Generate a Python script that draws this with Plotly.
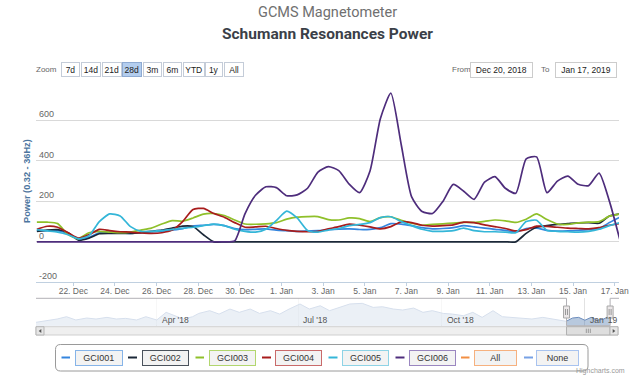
import plotly.graph_objects as go
import pandas as pd

# ---------------- data ----------------
times = pd.date_range("2018-12-20 06:00", periods=57, freq="12h")

gci001 = [55, 55, 55, 40, 12, 22, 45, 48, 45, 42, 45, 50, 52, 58, 65, 78, 82, 86, 80, 66,
          60, 62, 64, 58, 55, 52, 54, 55, 60, 63, 64, 61, 62, 70, 90, 88, 80, 70, 64, 66,
          70, 80, 74, 68, 62, 57, 48, 65, 68, 57, 53, 54, 57, 60, 66, 95, 122]
gci002 = [52, 58, 60, 45, 8, 18, 40, 42, 42, 42, 46, 52, 58, 68, 78, 76, 35, 0,
          0, 0, 0, 0, 0, 0, 0, 0, 0, 0, 0, 0, 0, 0, 0, 0, 0, 0, 0, 0, 0, 0, 0, 0, 0, 0, 0, 0, 0,
          42, 72, 80, 86, 90, 94, 95, 92, 128, 138]
gci003 = [97, 97, 90, 36, 16, 45, 52, 48, 45, 48, 58, 68, 88, 105, 102, 118, 137, 140, 130, 108,
          88, 87, 89, 95, 112, 122, 125, 125, 110, 108, 118, 115, 100, 120, 124, 106, 92, 82, 86, 89,
          93, 96, 96, 101, 108, 104, 96, 112, 138, 110, 88, 86, 94, 97, 100, 127, 138]
gci004 = [62, 77, 72, 45, 18, 35, 62, 55, 50, 48, 44, 42, 45, 58, 100, 160, 165, 140, 122, 95,
          72, 74, 77, 66, 57, 52, 50, 52, 64, 75, 88, 82, 74, 64, 75, 99, 95, 82, 78, 80,
          84, 97, 95, 84, 75, 66, 54, 60, 78, 76, 72, 68, 66, 64, 70, 82, 90]
gci005 = [60, 54, 48, 35, 15, 30, 100, 138, 128, 75, 52, 52, 55, 62, 67, 72, 80, 88, 80, 62,
          52, 48, 62, 105, 152, 118, 56, 48, 58, 66, 80, 86, 95, 120, 124, 100, 80, 62, 52, 52,
          55, 68, 55, 50, 50, 48, 45, 100, 107, 56, 52, 50, 48, 52, 62, 80, 95]
gci006 = [0, 0, 0, 0, 0, 0, 0, 0, 0, 0, 0, 0, 0, 0, 0, 0, 0, 0, 0,
          5, 140, 230, 272, 268, 228, 232, 265, 345, 372, 352, 285, 243, 350, 610, 735, 480, 222, 150,
          140, 200, 284, 250, 210, 295, 322, 265, 240, 410, 420, 243, 300, 325, 285, 278, 340, 200, 10]

series_names = ["GCI001", "GCI002", "GCI003", "GCI004", "GCI005", "GCI006"]
series_values = [gci001, gci002, gci003, gci004, gci005, gci006]
series_colors = ["#3485de", "#1b2838", "#8fc02a", "#a81c1c", "#34b6d8", "#4e2d7c"]

legend_names = ["GCI001", "GCI002", "GCI003", "GCI004", "GCI005", "GCI006", "All", "None"]
legend_colors = ["#3485de", "#1b2838", "#8fc02a", "#a81c1c", "#34b6d8", "#4e2d7c", "#f28f43", "#77a1e5"]
legend_borders = ["#86b4e8", "#4a525c", "#b2d66e", "#c96a6a", "#8ed3e6", "#9a86c0", "#f6b17f", "#a8c3ef"]

nav_dates = ["2018-01-13", "2018-01-20", "2018-01-27", "2018-02-02", "2018-02-08", "2018-02-15",
             "2018-02-21", "2018-02-28", "2018-03-06", "2018-03-12", "2018-03-19", "2018-03-25",
             "2018-04-01", "2018-04-07", "2018-04-11", "2018-04-18", "2018-04-24", "2018-04-28",
             "2018-05-05", "2018-05-11", "2018-05-18", "2018-05-24", "2018-05-31", "2018-06-06",
             "2018-06-13", "2018-06-19", "2018-06-25", "2018-07-02", "2018-07-08", "2018-07-15",
             "2018-07-21", "2018-07-27", "2018-08-03", "2018-08-11", "2018-08-18", "2018-08-24",
             "2018-08-31", "2018-09-06", "2018-09-13", "2018-09-19", "2018-09-25", "2018-10-02",
             "2018-10-08", "2018-10-15", "2018-10-21", "2018-10-27", "2018-11-03", "2018-11-09",
             "2018-11-16", "2018-11-22", "2018-11-28", "2018-12-05", "2018-12-11", "2018-12-17",
             "2018-12-20", "2018-12-24", "2018-12-28", "2019-01-01", "2019-01-05", "2019-01-09",
             "2019-01-13", "2019-01-17"]
nav_vals = [30, 46, 61, 82, 52, 70, 61, 76, 61, 67, 52, 82, 52, 122, 100, 61, 82, 112, 137, 106,
            152, 122, 152, 112, 137, 106, 152, 198, 152, 182, 137, 167, 198, 204, 167, 173, 152, 143,
            161, 122, 137, 112, 106, 91, 122, 76, 137, 82, 76, 70, 61, 76, 61, 52, 40, 70, 76, 50,
            76, 50, 60, 91]
nav_tick_dates = ["2018-04-01", "2018-07-01", "2018-10-01", "2019-01-01"]
nav_tick_labels = ["Apr '18", "Jul '18", "Oct '18", "Jan '19"]

y_ticks = [-200, 0, 200, 400, 600, 800]
y_ticktext = ["-200", "0", "200", "400", "600", ""]

zoom_labels = ["7d", "14d", "21d", "28d", "3m", "6m", "YTD", "1y", "All"]
active_zoom = "28d"
from_text = "Dec 20, 2018"
to_text = "Jan 17, 2019"

view_start = "2018-12-20 05:00"
view_end = "2019-01-17 05:00"
nav_start = "2018-01-13 10:00"
nav_end = "2019-01-22 22:00"

# ---------------- layout geometry ----------------
W, H = 640, 378
ML, MR, MT, MB = 36, 21, 80, 42
PW = W - ML - MR
PH = H - MT - MB


def fx(p):
    return (p - ML) / PW


def fy(p):
    return (H - MB - p) / PH


SMALL = "Liberation Sans, Arial, sans-serif"

fig = go.Figure()
for name, vals, col in zip(series_names, series_values, series_colors):
    fig.add_trace(go.Scatter(x=times, y=vals, name=name, mode="lines",
                             line=dict(color=col, width=1.7, shape="spline", smoothing=0.6),
                             xaxis="x", yaxis="y", showlegend=False, hoverinfo="skip"))

fig.add_trace(go.Scatter(x=nav_dates, y=nav_vals, mode="lines", fill="tozeroy",
                         line=dict(color="#6d8dbd", width=1), fillcolor="rgba(69,114,167,0.38)",
                         xaxis="x2", yaxis="y2", showlegend=False, hoverinfo="skip"))

shapes = []
annotations = []

# navigator masks and outline
for a, b in [(nav_start, view_start), (view_end, nav_end)]:
    shapes.append(dict(type="rect", xref="x2", yref="y2 domain", x0=a, x1=b, y0=0, y1=1,
                       fillcolor="rgba(255,255,255,0.72)", line=dict(width=0), layer="above"))
outline = dict(color="#b2b1b6", width=1)
for (xa, ya, xb, yb) in [(nav_start, 1, view_start, 1), (view_start, 1, view_start, 0),
                         (view_start, 0, view_end, 0), (view_end, 0, view_end, 1),
                         (view_end, 1, nav_end, 1)]:
    shapes.append(dict(type="line", xref="x2", yref="y2 domain", x0=xa, x1=xb, y0=ya, y1=yb,
                       line=outline))
# handles
for s in [view_start, view_end]:
    shapes.append(dict(type="rect", xref="x2", yref="y2", xsizemode="pixel", ysizemode="pixel",
                       xanchor=s, yanchor=125, x0=-3, x1=3, y0=-6, y1=6,
                       fillcolor="#ebe7e8", line=dict(color="#a8a8a8", width=1)))
    for off in [-1, 1]:
        shapes.append(dict(type="line", xref="x2", yref="y2", xsizemode="pixel", ysizemode="pixel",
                           xanchor=s, yanchor=125, x0=off, x1=off, y0=-3, y1=3,
                           line=dict(color="#999999", width=1)))

# scrollbar
sb_top, sb_bot = 326.7, 335
shapes.append(dict(type="rect", xref="paper", yref="paper", x0=0, x1=fx(618), y0=fy(sb_bot), y1=fy(sb_top),
                   fillcolor="#efefef", line=dict(color="#cfcfcf", width=1)))
shapes.append(dict(type="rect", xref="x2", yref="paper", x0=view_start, x1=view_end,
                   y0=fy(sb_bot), y1=fy(sb_top), fillcolor="#dedede", line=dict(color="#b0b0b0", width=1)))
for off in [-2, 0, 2]:
    shapes.append(dict(type="line", xref="x2", yref="paper", xsizemode="pixel",
                       xanchor="2019-01-03 05:00", x0=off, x1=off, y0=fy(333), y1=fy(328.7),
                       line=dict(color="#8a8a8a", width=0.8)))
for (a, b) in [(36, 44), (610, 618)]:
    shapes.append(dict(type="rect", xref="paper", yref="paper", x0=fx(a), x1=fx(b),
                       y0=fy(sb_bot), y1=fy(sb_top), fillcolor="#e6e6e6",
                       line=dict(color="#b5b5b5", width=1)))
shapes.append(dict(type="path", xref="paper", yref="paper",
                   path=f"M {fx(41.3)} {fy(328.9)} L {fx(38.7)} {fy(330.9)} L {fx(41.3)} {fy(332.9)} Z",
                   fillcolor="#555555", line=dict(width=0)))
shapes.append(dict(type="path", xref="paper", yref="paper",
                   path=f"M {fx(612.7)} {fy(328.9)} L {fx(615.3)} {fy(330.9)} L {fx(612.7)} {fy(332.9)} Z",
                   fillcolor="#555555", line=dict(width=0)))

# legend frame (rounded)
lx0, lx1, ly0, ly1 = fx(55.5), fx(588), fy(371), fy(344.5)
rx, ry = 5 / PW, 5 / PH
shapes.append(dict(type="path", xref="paper", yref="paper",
                   path=(f"M {lx0+rx} {ly1} L {lx1-rx} {ly1} Q {lx1} {ly1} {lx1} {ly1-ry} "
                         f"L {lx1} {ly0+ry} Q {lx1} {ly0} {lx1-rx} {ly0} L {lx0+rx} {ly0} "
                         f"Q {lx0} {ly0} {lx0} {ly0+ry} L {lx0} {ly1-ry} Q {lx0} {ly1} {lx0+rx} {ly1} Z"),
                   line=dict(color="#9a9a9a", width=1), fillcolor="rgba(0,0,0,0)"))

legend_sym = [(61.5, 70), (128, 137), (195.5, 204), (262, 271), (328.5, 337.5), (395.5, 404.5), (461, 469.5), (524, 533)]
legend_box = [(75, 122.5), (142, 188.5), (208.5, 255.5), (274.5, 321.5), (341.5, 388.5), (408.5, 455.5), (474.5, 517), (536, 579)]
LEG_Y = 357.5
for name, col, bcol, (s0, s1), (b0, b1) in zip(legend_names, legend_colors, legend_borders, legend_sym, legend_box):
    shapes.append(dict(type="line", xref="paper", yref="paper", x0=fx(s0), x1=fx(s1),
                       y0=fy(LEG_Y), y1=fy(LEG_Y), line=dict(color=col, width=2)))
    annotations.append(dict(xref="paper", yref="paper", x=fx((b0 + b1) / 2), y=fy(LEG_Y),
                            xanchor="center", yanchor="middle", text=name, showarrow=False,
                            width=b1 - b0 - 2, height=14, borderpad=0, borderwidth=1,
                            bordercolor=bcol, bgcolor="#f3f3f3",
                            font=dict(family=SMALL, size=9, color="#333333")))

# titles
annotations.append(dict(xref="paper", yref="paper", x=0.5, y=fy(12.5), xanchor="center", yanchor="middle",
                        text="GCMS Magnetometer", showarrow=False,
                        font=dict(family="Roboto, sans-serif", size=14.5, color="#707070")))
annotations.append(dict(xref="paper", yref="paper", x=0.5, y=fy(33.5), xanchor="center", yanchor="middle",
                        text="<b>Schumann Resonances Power</b>", showarrow=False,
                        font=dict(family="Roboto, sans-serif", size=15.5, color="#3b3f48")))

# range selector look-alike
ROW_Y = 69.5
annotations.append(dict(xref="paper", yref="paper", x=fx(46.5), y=fy(ROW_Y), xanchor="center", yanchor="middle",
                        text="Zoom", showarrow=False, font=dict(family=SMALL, size=8, color="#666666")))
zoom_edges = [(61, 80), (81, 101), (102, 121.5), (122.5, 142), (143, 162), (163, 182), (183, 204.5), (205.5, 223), (224, 244)]
for lab, (a, b) in zip(zoom_labels, zoom_edges):
    act = lab == active_zoom
    annotations.append(dict(xref="paper", yref="paper", x=fx((a + b) / 2), y=fy(ROW_Y),
                            xanchor="center", yanchor="middle", text=lab, showarrow=False,
                            width=b - a - 2, height=13, borderpad=0, borderwidth=1,
                            bordercolor="#8eaad2" if act else "#c4ccd8",
                            bgcolor="#b3cdee" if act else "#ffffff",
                            font=dict(family=SMALL, size=8.5, color="#222222")))
annotations.append(dict(xref="paper", yref="paper", x=fx(461), y=fy(ROW_Y), xanchor="center", yanchor="middle",
                        text="From", showarrow=False, font=dict(family=SMALL, size=8, color="#666666")))
annotations.append(dict(xref="paper", yref="paper", x=fx(545), y=fy(ROW_Y), xanchor="center", yanchor="middle",
                        text="To", showarrow=False, font=dict(family=SMALL, size=8, color="#666666")))
for txt, (a, b) in [(from_text, (470.5, 533)), (to_text, (555, 617))]:
    annotations.append(dict(xref="paper", yref="paper", x=fx((a + b) / 2), y=fy(ROW_Y),
                            xanchor="center", yanchor="middle", text=txt, showarrow=False,
                            width=b - a - 2, height=14, borderpad=0, borderwidth=1,
                            bordercolor="#cccccc", bgcolor="#ffffff",
                            font=dict(family=SMALL, size=8.5, color="#222222")))

# y-axis title
annotations.append(dict(xref="paper", yref="paper", x=fx(27), y=fy(181), xanchor="center", yanchor="middle",
                        text="<b>Power (0.32 - 36Hz)</b>", textangle=-90, showarrow=False,
                        font=dict(family=SMALL, size=9.2, color="#4d759e")))

# navigator labels
for d, lab in zip(nav_tick_dates, nav_tick_labels):
    annotations.append(dict(xref="x2", yref="y2 domain", x=d, y=0.2, xanchor="left", yanchor="middle",
                            xshift=3, text=lab, showarrow=False,
                            font=dict(family=SMALL, size=8.5, color="#555555")))

# credits
annotations.append(dict(xref="paper", yref="paper", x=fx(627), y=fy(371), xanchor="right", yanchor="middle",
                        text="Highcharts.com", showarrow=False,
                        font=dict(family=SMALL, size=7, color="#999999")))

fig.update_layout(
    width=W, height=H,
    margin=dict(l=ML, r=MR, t=MT, b=MB, pad=0),
    paper_bgcolor="#ffffff", plot_bgcolor="#ffffff",
    showlegend=False,
    xaxis=dict(domain=[0, 1], anchor="y", type="date", range=[view_start, view_end],
               tick0="2018-12-22", dtick=2 * 86400000, tickformat="%-d. %b",
               ticks="outside", ticklen=3, tickcolor="#c0d0e0", showline=True, linecolor="#c0d0e0",
               showgrid=False, zeroline=False, ticklabelstandoff=-3,
               tickfont=dict(family=SMALL, size=8.5, color="#666666")),
    yaxis=dict(domain=[fy(282.3), 1], anchor="x", range=[-200, 800], tickvals=y_ticks, ticktext=y_ticktext,
               ticklabelposition="inside top", gridcolor="#d9d9d9", gridwidth=1, zeroline=False,
               showline=False, ticks="", tickfont=dict(family=SMALL, size=9, color="#666666")),
    xaxis2=dict(domain=[0, 1], anchor="y2", type="date", range=[nav_start, nav_end],
                tickvals=nav_tick_dates, showticklabels=False, showgrid=True, gridcolor="#e2e2e2",
                ticks="", showline=False, zeroline=False),
    yaxis2=dict(domain=[fy(325.7), fy(298.3)], anchor="x2", range=[0, 250], showgrid=False,
                showticklabels=False, zeroline=False, showline=False, ticks=""),
    shapes=shapes,
    annotations=annotations,
)

fig.write_html("out.html", config={"displayModeBar": False},
               post_script="document.body.style.margin='0';")
